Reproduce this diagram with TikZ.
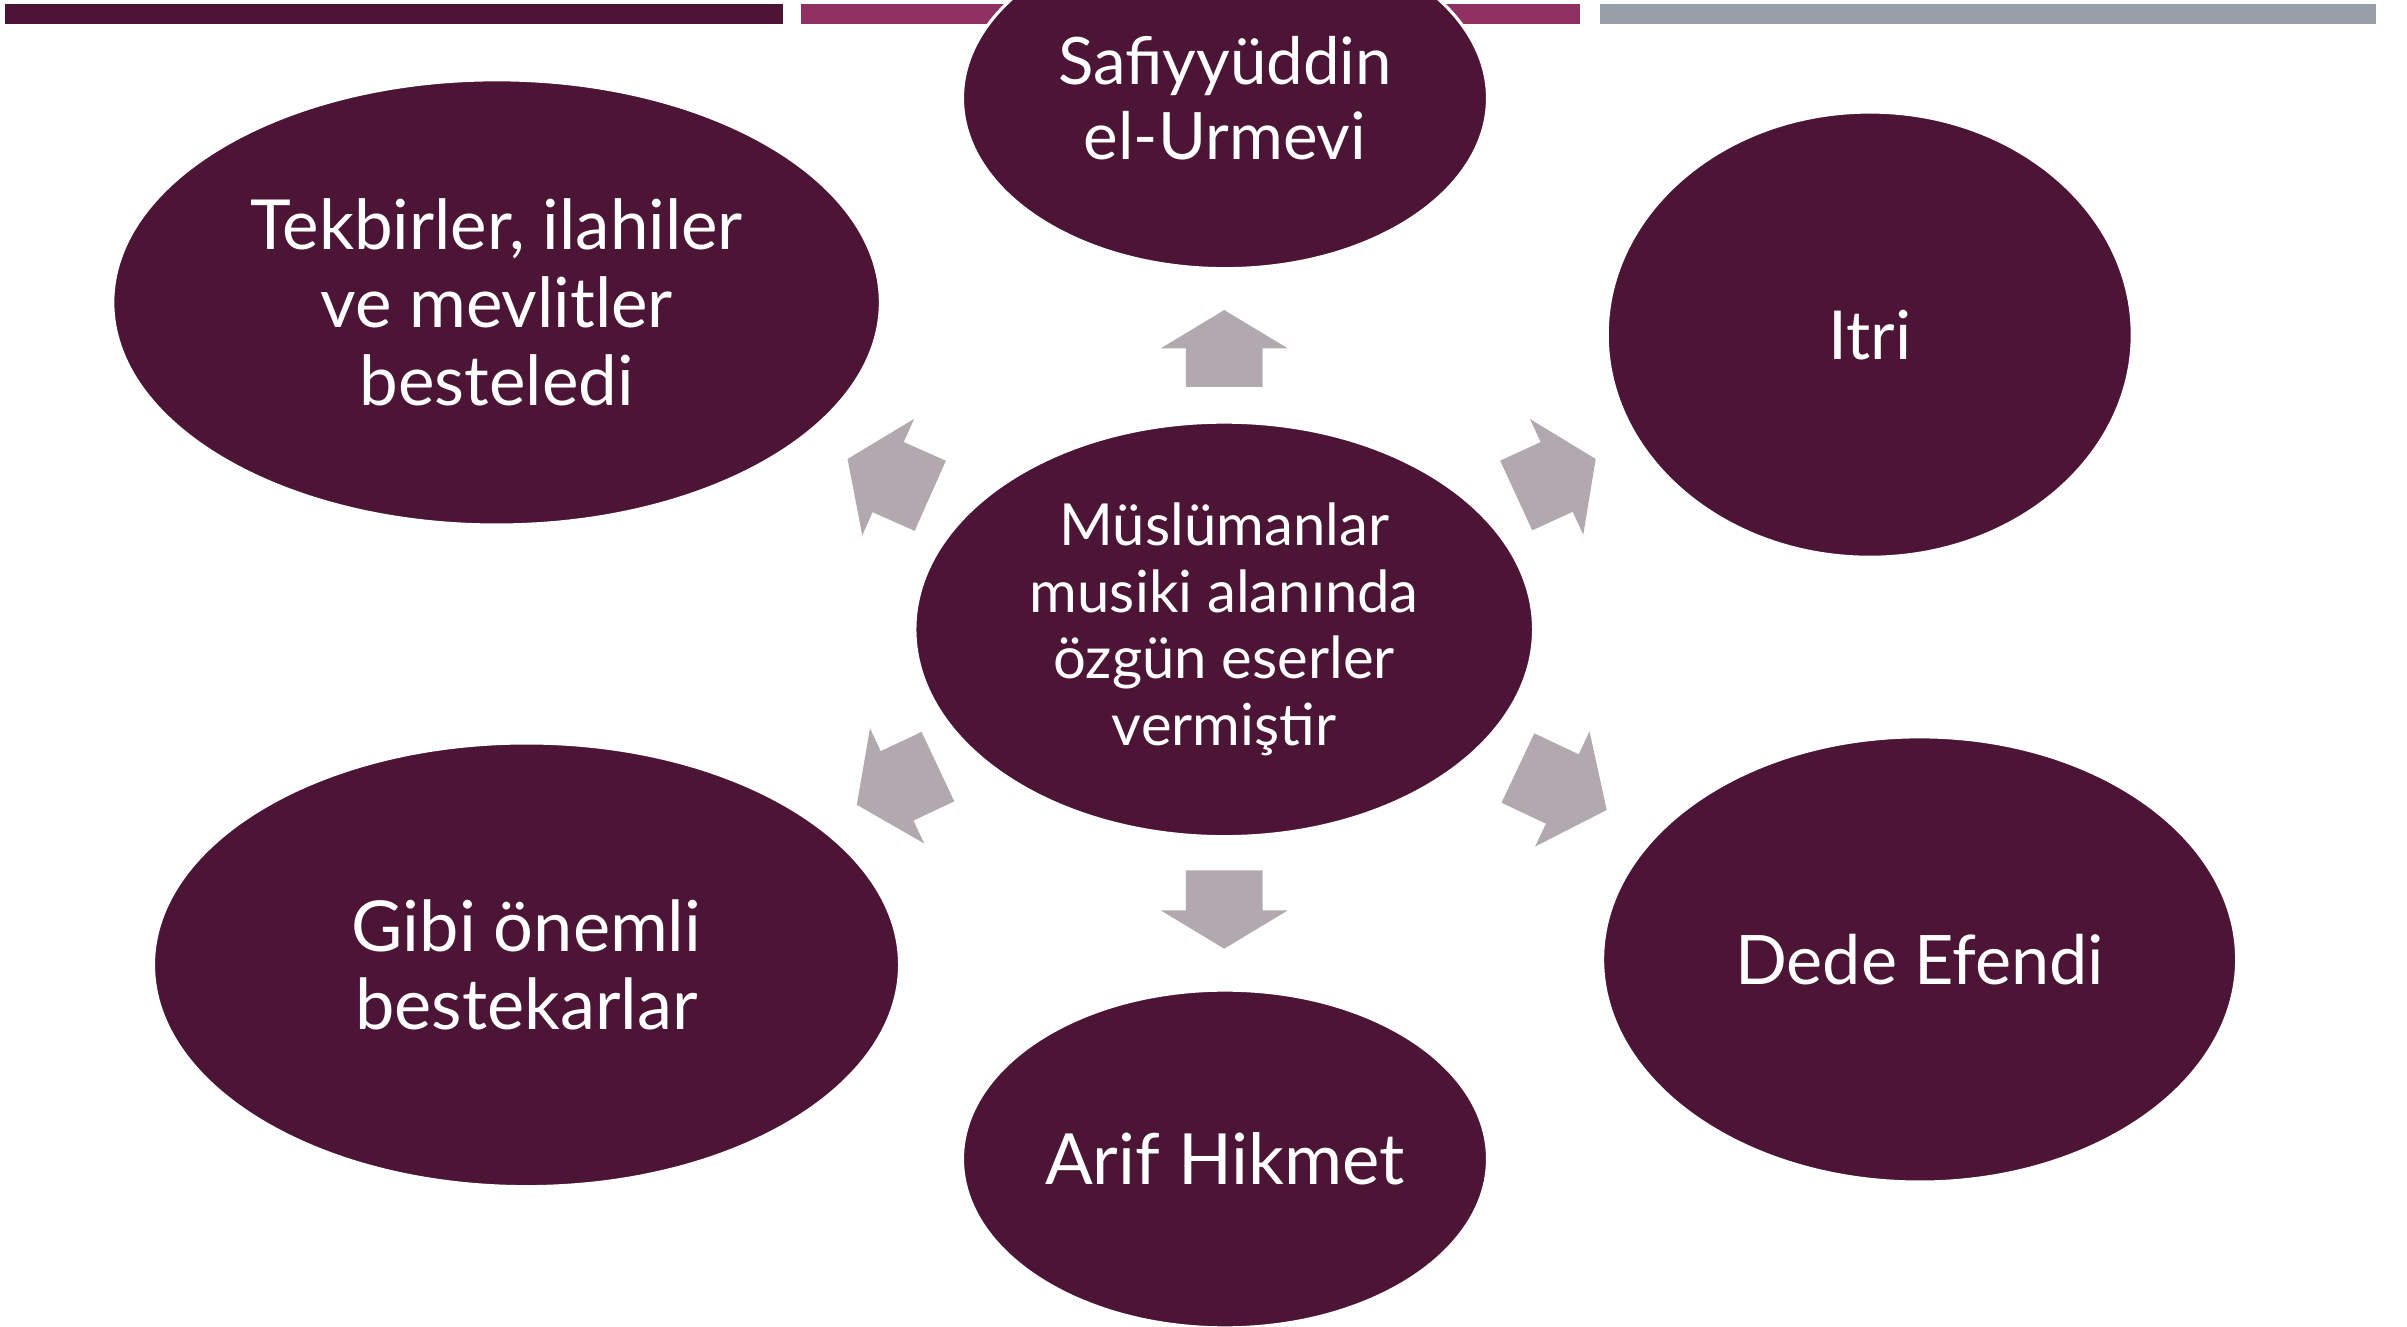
\documentclass[tikz,border=0pt]{standalone}
\usepackage{fontspec}
\setmainfont{Lato}
\usetikzlibrary{shapes.geometric}
\definecolor{maroon}{RGB}{77,21,53}
\definecolor{barpink}{RGB}{143,50,99}
\definecolor{bargray}{RGB}{151,159,169}
\definecolor{arrowgray}{RGB}{177,169,173}
\tikzset{
  blob/.style={ellipse, fill=maroon, draw=white, line width=2pt, inner sep=0pt,
    text=white, align=center},
  pics/barrow/.style 2 args={code={
    \fill[arrowgray] (0,-25) -- (#1,-25) -- (#1,-41.5) -- ({#1+#2},0) -- (#1,41.5) -- (#1,25) -- (0,25) -- cycle;}}
}
\newcommand{\fs}[2]{\fontsize{#1}{#2}\selectfont}
\begin{document}
\begin{tikzpicture}[x=1pt,y=-1pt]
\useasboundingbox (0,0) rectangle (1568,864);
% top bars
\fill[maroon] (3,2.6) rectangle (510,15.6);
\fill[barpink] (522,2.6) rectangle (1029,15.6);
\fill[bargray] (1042,2.6) rectangle (1548,15.6);
% ellipses
\node[blob, minimum width=342pt, minimum height=222pt, font=\fs{42.6}{49}] (n1) at (798,64) {Safiyyüddin\\el-Urmevi};
\node[blob, minimum width=500pt, minimum height=290pt, font=\fs{45}{50.7}] (n2) at (323.5,197) {Tekbirler, ilahiler\\ve mevlitler\\besteledi};
\node[blob, minimum width=342pt, minimum height=290pt, font=\fs{44}{50}] (n3) at (1218,218) {Itri};
\node[blob, minimum width=403pt, minimum height=270pt, font=\fs{37.8}{43.3}] (c) at (797.5,410) {Müslümanlar\\musiki alanında\\özgün eserler\\vermiştir};
\node[blob, minimum width=486pt, minimum height=289pt, font=\fs{45.8}{51}] (n4) at (343,628.5) {Gibi önemli\\bestekarlar};
\node[blob, minimum width=413pt, minimum height=290pt, font=\fs{44.5}{50}] (n5) at (1250.5,625) {Dede Efendi};
\node[blob, minimum width=342pt, minimum height=220pt, font=\fs{46}{50}] (n6) at (798,755) {Arif Hikmet};
% block arrows
\pic[rotate=90] at (797.5,252) {barrow={25}{25}};
\pic[rotate=-90] at (797.5,567) {barrow={26}{25}};
\pic[rotate=156] at (606,323) {barrow={30}{29}};
\pic[rotate=24.7] at (987.7,322.8) {barrow={29}{28}};
\pic[rotate=205.2] at (611,499.4) {barrow={29.4}{29}};
\pic[rotate=-25.3] at (988.8,500.3) {barrow={32}{32}};
\end{tikzpicture}
\end{document}
